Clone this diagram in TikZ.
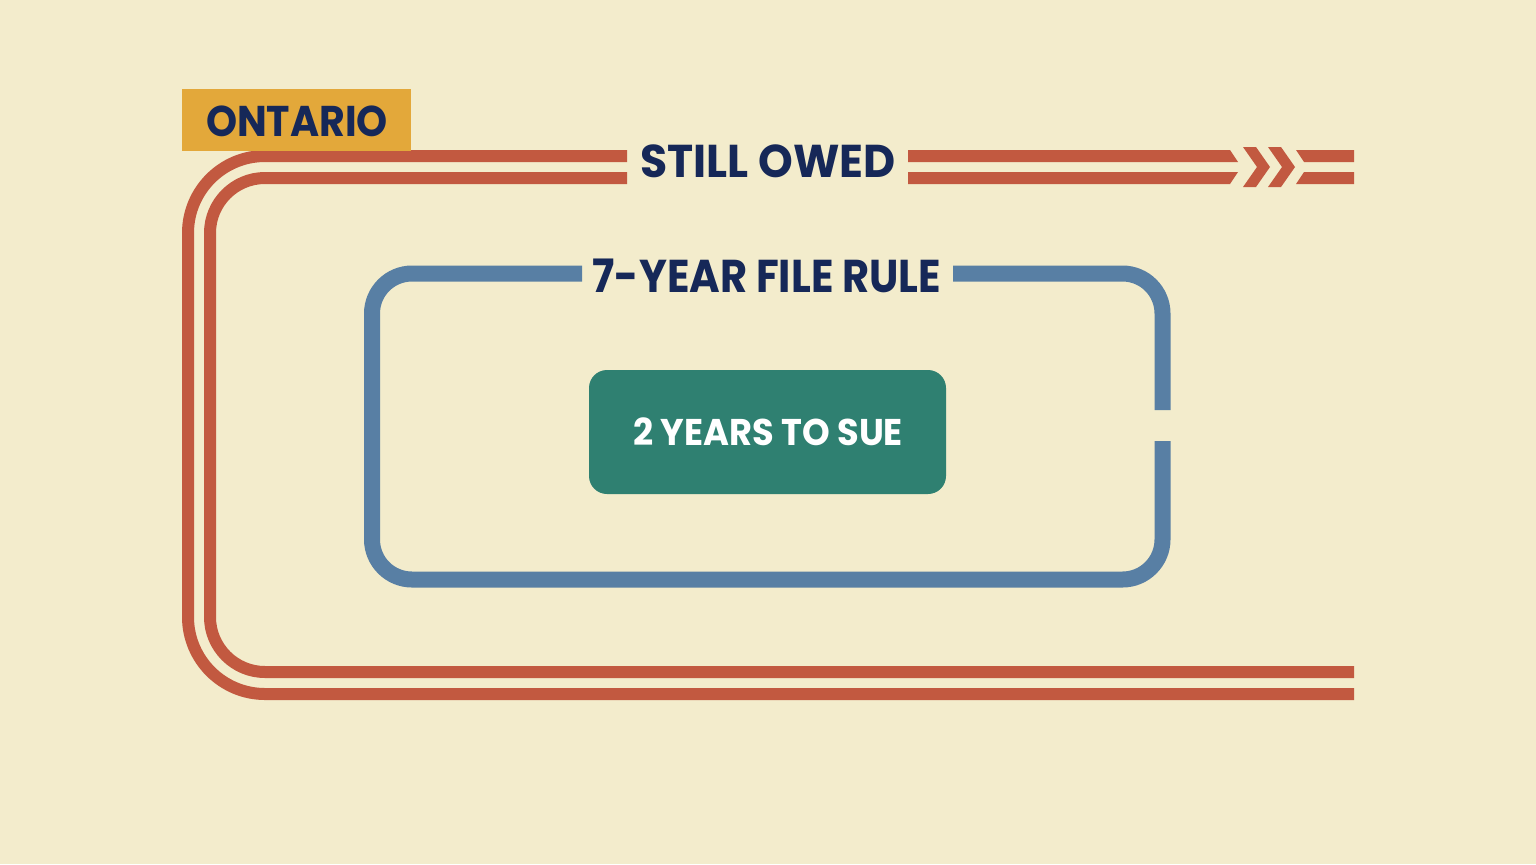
\documentclass[tikz,border=0pt]{standalone}
\usepackage{fontspec}
\setmainfont{Poppins}
\definecolor{bg}{RGB}{243,236,204}
\definecolor{rust}{RGB}{194,89,64}
\definecolor{steel}{RGB}{88,127,164}
\definecolor{teal}{RGB}{47,128,113}
\definecolor{gold}{RGB}{227,168,58}
\definecolor{navy}{RGB}{22,40,88}
\tikzset{
  redline/.style={draw=rust, line width=6pt},
  blueline/.style={draw=steel, line width=8pt},
  title/.style={anchor=base, text=navy, font=\bfseries\fontsize{23}{26}\selectfont, inner sep=0pt},
}
\begin{document}
\begin{tikzpicture}[x=0.5pt,y=-0.5pt]
\fill[bg] (0,0) rectangle (1536,864);
\useasboundingbox (0,0) rectangle (1536,864);
% red outer track
\draw[redline, rounded corners=38.5pt] (627,156) -- (188,156) -- (188,694) -- (1354,694);
\draw[redline, rounded corners=27.5pt] (627,178) -- (210,178) -- (210,672) -- (1354,672);
% right top bars
\fill[rust] (908,150) -- (1230,150) -- (1238,162) -- (908,162) -- cycle;
\fill[rust] (908,172) -- (1238,172) -- (1230,184) -- (908,184) -- cycle;
\fill[rust] (1296,150) -- (1354,150) -- (1354,162) -- (1304,162) -- cycle;
\fill[rust] (1304,172) -- (1354,172) -- (1354,184) -- (1296,184) -- cycle;
% chevrons
\fill[rust] (1243,147) -- (1256,147) -- (1270,167) -- (1256,187) -- (1243,187) -- (1257,167) -- cycle;
\fill[rust] (1268,147) -- (1281,147) -- (1295,167) -- (1281,187) -- (1268,187) -- (1282,167) -- cycle;
% ontario tag
\node[fill=gold, minimum width=114.5pt, minimum height=31pt, inner sep=0pt, anchor=north west] (tag) at (182,89) {};
\node[anchor=base, text=navy, font=\bfseries\fontsize{21.5}{24}\selectfont, inner sep=0pt] (ont) at (297,136) {\scalebox{0.92}[1]{ONTARIO}};
% titles
\node[title] (owed) at (768,177) {\scalebox{0.96}[1]{STILL OWED}};
% blue frame
\draw[blueline, rounded corners=20pt] (582,273.5) -- (372,273.5) -- (372,579.5) -- (1162.5,579.5) -- (1162.5,441);
\draw[blueline, rounded corners=20pt] (1162.5,410) -- (1162.5,273.5) -- (953,273.5);
\node[title] (rule) at (767,292) {\scalebox{0.905}[1]{7-YEAR FILE RULE}};
% green box
\node[fill=teal, rounded corners=9pt, minimum width=178.5pt, minimum height=62pt, inner sep=0pt] (box) at (767.5,432) {};
\node[anchor=base, text=white, font=\bfseries\fontsize{18.6}{22}\selectfont, inner sep=0pt] (sue) at (768,445) {\scalebox{0.947}[1]{2 YEARS TO SUE}};
\end{tikzpicture}
\end{document}
